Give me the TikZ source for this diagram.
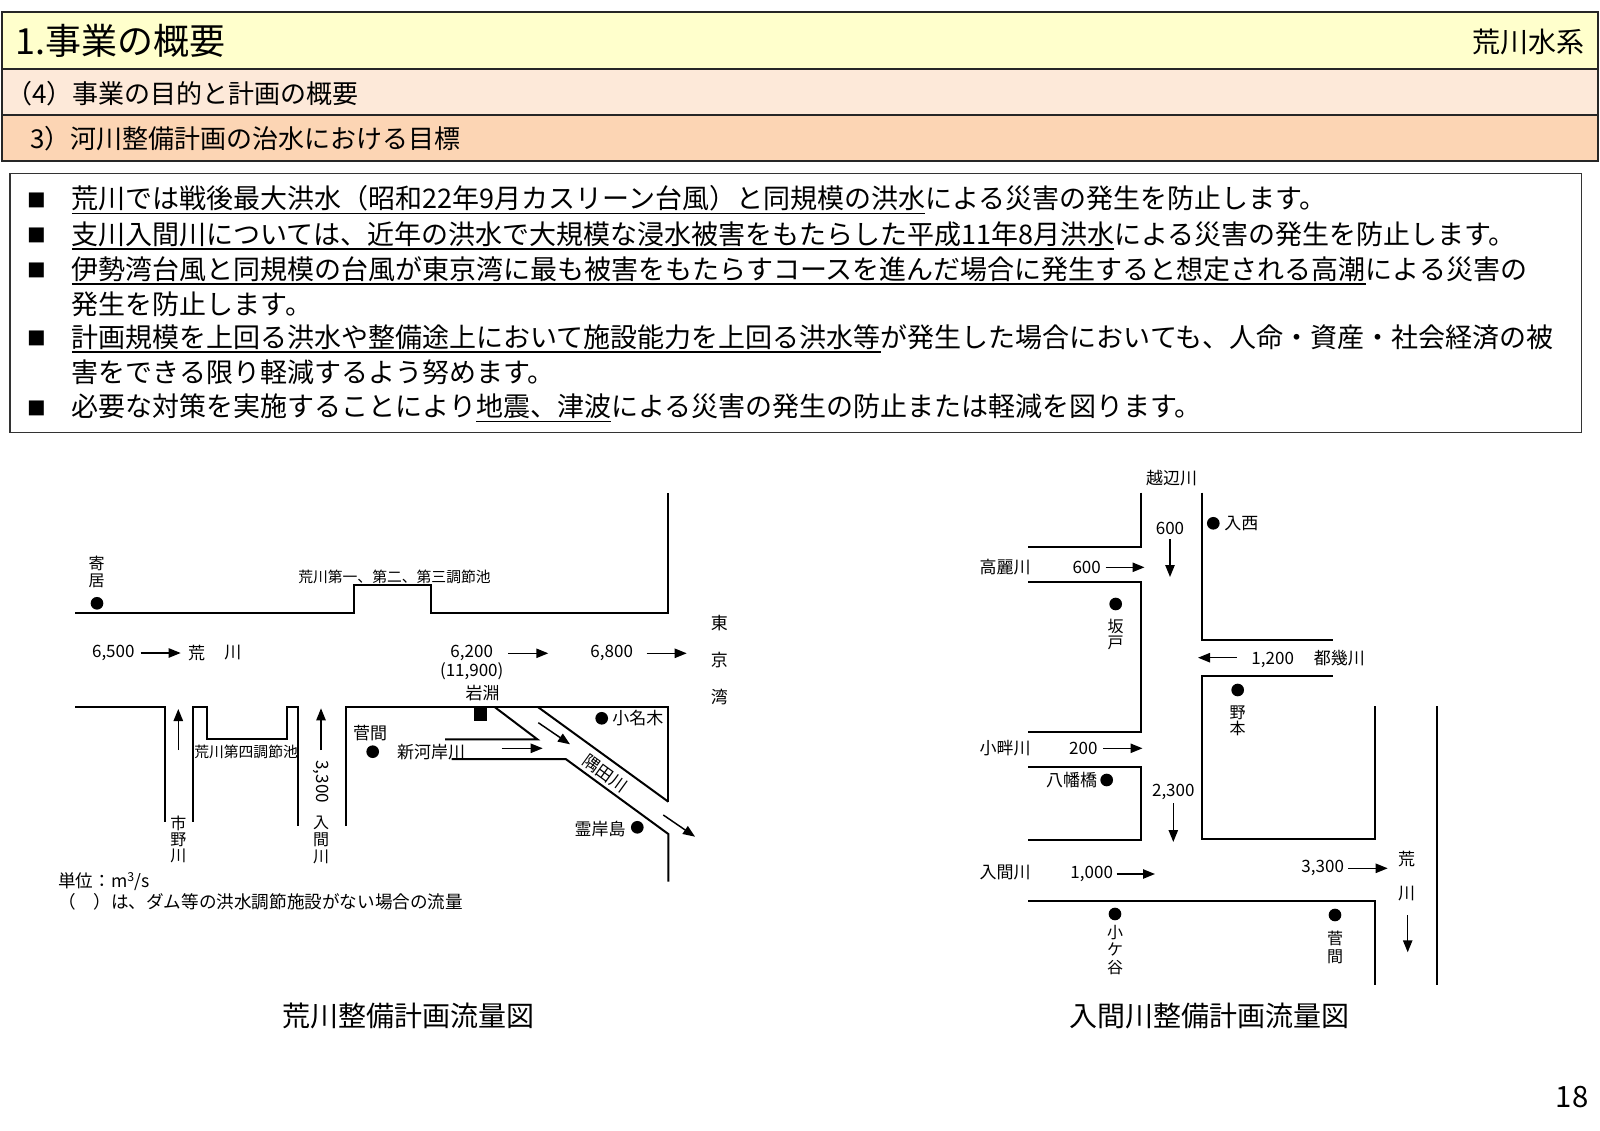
\documentclass[tikz,border=0pt]{standalone}
\usepackage{fontspec}
\setmainfont{Noto Sans CJK JP}
\usetikzlibrary{arrows.meta}
\definecolor{bandA}{HTML}{FFFFCC}
\definecolor{bandB}{HTML}{FDE9D9}
\definecolor{bandC}{HTML}{FCD5B4}
\newsavebox\ulbox
\newcommand\myul[1]{\sbox\ulbox{#1}\rlap{\rule[-0.2em]{\wd\ulbox}{0.065em}}\usebox\ulbox}
\begin{document}
\begin{tikzpicture}[x=0.75pt,y=-0.75pt,
  bank/.style={line width=1.5pt},
  flow/.style={line width=1.1pt,-{Triangle[length=9pt,width=7pt]}},
  lb/.style={inner sep=0pt,font=\fontsize{12.75}{13}\selectfont},
  sm/.style={inner sep=0pt,font=\fontsize{11.1}{12}\selectfont},
  vt/.style={inner sep=0pt,align=center},
  dot/.style={circle,fill,inner sep=0pt,minimum size=9.5pt},
  band/.style={draw=black!85,line width=1.1pt},
  bl/.style={anchor=west,inner sep=0pt,font=\fontsize{20.25}{24}\selectfont},
  bul/.style={inner sep=0pt,font=\fontsize{14}{14}\selectfont},
]
\useasboundingbox (0,0) rectangle (1600,1131);
\fill[white] (0,0) rectangle (1600,1131);

% header bands
\filldraw[band,fill=bandA] (2,12) rectangle (1598,69);
\filldraw[band,fill=bandB] (2,69) rectangle (1598,115);
\filldraw[band,fill=bandC] (2,115) rectangle (1598,161);
\node[anchor=west,inner sep=0pt,font=\fontsize{27}{29}\selectfont] (title) at (15,41) {1.事業の概要};
\node[anchor=east,inner sep=0pt,font=\fontsize{21}{24}\selectfont] (sys) at (1585,42) {荒川水系};
\node[anchor=west,inner sep=0pt,font=\fontsize{19.5}{22}\selectfont] (sub1) at (6,94) {（4）事業の目的と計画の概要};
\node[anchor=west,inner sep=0pt,font=\fontsize{19.5}{22}\selectfont] (sub2) at (30,139) {3）河川整備計画の治水における目標};

% text box
\draw[line width=1.1pt,draw=black!80] (10,173.5) rectangle (1581.6,432.7);
\node[bul] (b1) at (37,200) {■};
\node[bul] (b2) at (37,235.7) {■};
\node[bul] (b3) at (37,270.4) {■};
\node[bul] (b4) at (37,338.8) {■};
\node[bul] (b5) at (37,408.2) {■};
\node[bl] (l1) at (71.5,200) {\myul{荒川では戦後最大洪水（昭和22年9月カスリーン台風）と同規模の洪水}による災害の発生を防止します。};
\node[bl] (l2) at (71.5,235.7) {\myul{支川入間川については、近年の洪水で大規模な浸水被害をもたらした平成11年8月洪水}による災害の発生を防止します。};
\node[bl] (l3) at (71.5,270.4) {\myul{伊勢湾台風と同規模の台風が東京湾に最も被害をもたらすコースを進んだ場合に発生すると想定される高潮}による災害の};
\node[bl] (l4) at (71.5,304.1) {発生を防止します。};
\node[bl] (l5) at (71.5,338.8) {\myul{計画規模を上回る洪水や整備途上において施設能力を上回る洪水等}が発生した場合においても、人命・資産・社会経済の被};
\node[bl] (l6) at (71.5,372.4) {害をできる限り軽減するよう努めます。};
\node[bl] (l7) at (71.5,408.2) {必要な対策を実施することにより\myul{地震、津波}による災害の発生の防止または軽減を図ります。};

% ================= left diagram (Arakawa) =================
\draw[bank] (75,612.7) -- (354,612.7) -- (354,585.3) -- (430.7,585.3) -- (430.7,612.7) -- (668.3,612.7) -- (668.3,493.3);
\draw[bank] (75,707.3) -- (165,707.3) -- (165,821.7);
\draw[bank] (193.3,821.7) -- (193.3,707.3) -- (206.7,707.3) -- (206.7,739) -- (286.7,739) -- (286.7,707.3) -- (298.3,707.3) -- (298.3,826);
\draw[bank] (346,826) -- (346,707.3) -- (668.3,707.3) -- (668.3,801.7);
\draw[bank] (538.3,707.3) -- (668.3,801.7);
\draw[bank] (495,707.3) -- (537.3,739.3) -- (445,739.3);
\draw[bank] (451.7,759) -- (565.7,759) -- (668.3,834) -- (668.3,881.7);
\fill (474,707.3) rectangle (487.3,721);

\node[dot] (yorii) at (97,603.3) {};
\node[vt,font=\fontsize{12}{13.3}\selectfont] (yoriiT) at (96.7,571.9) {寄\\居};
\node[sm,anchor=west] (chosetsu) at (298,576.7) {荒川第一、第二、第三調節池};
\node[lb] (q6500) at (113.3,653) {6,500};
\coordinate (a1s) at (140.7,653); \coordinate (a1e) at (180.7,653);
\draw[flow] (a1s) -- (a1e);
\node[lb] (ara1) at (196.5,653) {荒};
\node[lb] (kawa1) at (232.8,653) {川};
\node[sm,anchor=west] (chosetsu4) at (194,751.7) {荒川第四調節池};
\coordinate (a2s) at (178.3,750); \coordinate (a2e) at (178.3,709);
\draw[flow] (a2s) -- (a2e);
\node[vt,font=\fontsize{12}{12.2}\selectfont] (ichino) at (178.3,839.5) {市\\野\\川};
\coordinate (a3s) at (321,750); \coordinate (a3e) at (321,708.3);
\draw[flow] (a3s) -- (a3e);
\node[lb,rotate=-90] (q3300a) at (321,781.7) {3,300};
\node[vt,font=\fontsize{12}{12.5}\selectfont] (iruma1) at (321,840) {入\\間\\川};
\node[lb] (sugama1) at (370,733.3) {菅間};
\node[dot] (sugamaD) at (372.7,751.7) {};
\node[lb] (shingashi) at (431,751.7) {新河岸川};
\coordinate (a4s) at (501.7,748.3); \coordinate (a4e) at (542.7,748.3);
\draw[flow] (a4s) -- (a4e);
\node[lb] (q6200) at (471.7,653.3) {6,200};
\node[lb] (q11900) at (471.7,671.7) {(11,900)};
\node[lb] (iwabuchi) at (482.7,693.3) {岩淵};
\coordinate (a5s) at (508.3,653.3); \coordinate (a5e) at (548.3,653.3);
\draw[flow] (a5s) -- (a5e);
\node[lb] (q6800) at (611.7,653.3) {6,800};
\coordinate (a6s) at (646.7,653.3); \coordinate (a6e) at (686.7,653.3);
\draw[flow] (a6s) -- (a6e);
\node[vt,font=\fontsize{12.75}{27.5}\selectfont] (tokyowan) at (719.3,660) {東\\京\\湾};
\node[dot] (onagiD) at (601.7,718.3) {};
\node[lb,anchor=west] (onagi) at (612,718.3) {小名木};
\node[inner sep=0pt,font=\fontsize{12.5}{13}\selectfont,rotate=-36] (sumida) at (605,773.5) {隅田川};
\coordinate (a7s) at (538.3,722.7); \coordinate (a7e) at (570,744.3);
\draw[flow] (a7s) -- (a7e);
\coordinate (a8s) at (663.3,815); \coordinate (a8e) at (695,836.7);
\draw[flow] (a8s) -- (a8e);
\node[lb,anchor=east] (reigan) at (626,829) {霊岸島};
\node[dot] (reiganD) at (637.3,827.3) {};
\node[anchor=west,inner sep=0pt,font=\fontsize{13.2}{14}\selectfont] (unit) at (58,881.7) {単位：m\textsuperscript{3}/s};
\node[anchor=west,inner sep=0pt,font=\fontsize{13.2}{14}\selectfont] (note) at (58,901.7) {（　）は、ダム等の洪水調節施設がない場合の流量};
\node[inner sep=0pt,font=\fontsize{21}{24}\selectfont] (cap1) at (408,1016) {荒川整備計画流量図};

% ================= right diagram (Iruma) =================
\draw[bank] (1141,492.7) -- (1141,546.7) -- (1028.3,546.7);
\draw[bank] (1202.3,492.7) -- (1202.3,640) -- (1332.7,640);
\draw[bank] (1028.3,582) -- (1141,582) -- (1141,731.7) -- (1028.3,731.7);
\draw[bank] (1028.3,766.7) -- (1141,766.7) -- (1141,840) -- (1028.3,840);
\draw[bank] (1332.7,676) -- (1202.3,676) -- (1202.3,839.3) -- (1375.3,839.3) -- (1375.3,706);
\draw[bank] (1028.3,901.3) -- (1375.3,901.3) -- (1375.3,985);
\draw[bank] (1436.7,706) -- (1436.7,985);

\node[lb] (oppe) at (1171.7,478.3) {越辺川};
\node[dot] (irisaiD) at (1213.3,523.3) {};
\node[lb,anchor=west] (irisai) at (1224,523.3) {入西};
\node[lb] (q600a) at (1170,528.3) {600};
\coordinate (b1s) at (1170,539.3); \coordinate (b1e) at (1170,577);
\draw[flow] (b1s) -- (b1e);
\node[lb] (koma) at (1005,567.3) {高麗川};
\node[lb] (q600b) at (1086.7,567.3) {600};
\coordinate (b2s) at (1105.7,567.3); \coordinate (b2e) at (1144.5,567.3);
\draw[flow] (b2s) -- (b2e);
\node[dot] (sakadoD) at (1115.7,604) {};
\node[vt,font=\fontsize{12}{12}\selectfont] (sakado) at (1115.7,634.7) {坂\\戸};
\coordinate (b3s) at (1236.7,657.7); \coordinate (b3e) at (1198,657.7);
\draw[flow] (b3s) -- (b3e);
\node[lb] (q1200) at (1272.7,660) {1,200};
\node[lb] (toki) at (1339.3,658) {都幾川};
\node[dot] (nomotoD) at (1237.7,690) {};
\node[vt,font=\fontsize{12}{11.7}\selectfont] (nomoto) at (1237.7,720.5) {野\\本};
\node[lb] (koaze) at (1005,748.3) {小畔川};
\node[lb] (q200) at (1083.3,748.3) {200};
\coordinate (b4s) at (1103.3,748.3); \coordinate (b4e) at (1142.5,748.3);
\draw[flow] (b4s) -- (b4e);
\node[lb] (hachiman) at (1071.7,780) {八幡橋};
\node[dot] (hachimanD) at (1106.7,780) {};
\node[lb] (q2300) at (1173.3,791.7) {2,300};
\coordinate (b5s) at (1173.3,803.3); \coordinate (b5e) at (1173.3,842);
\draw[flow] (b5s) -- (b5e);
\node[lb] (iruma2) at (1005,872.3) {入間川};
\node[lb] (q1000) at (1091.7,874) {1,000};
\coordinate (b6s) at (1116.7,874); \coordinate (b6e) at (1155,874);
\draw[flow] (b6s) -- (b6e);
\node[lb] (q3300b) at (1322.7,868.3) {3,300};
\coordinate (b7s) at (1348.3,868.3); \coordinate (b7e) at (1387.7,868.3);
\draw[flow] (b7s) -- (b7e);
\node[vt,font=\fontsize{12.75}{25.5}\selectfont] (arakawa2) at (1406.7,876.3) {荒\\川};
\coordinate (b8s) at (1407.7,915); \coordinate (b8e) at (1407.7,952.3);
\draw[flow] (b8s) -- (b8e);
\node[dot] (kogayaD) at (1115,914) {};
\node[vt,font=\fontsize{12}{13.1}\selectfont] (kogaya) at (1115,950) {小\\ケ\\谷};
\node[dot] (sugama2D) at (1335,915) {};
\node[vt,font=\fontsize{12}{13.8}\selectfont] (sugama2) at (1335,947.5) {菅\\間};
\node[inner sep=0pt,font=\fontsize{21}{24}\selectfont] (cap2) at (1209,1016) {入間川整備計画流量図};

\node[inner sep=0pt,font=\fontsize{22}{24}\selectfont] (page) at (1572,1097) {18};
\end{tikzpicture}
\end{document}
